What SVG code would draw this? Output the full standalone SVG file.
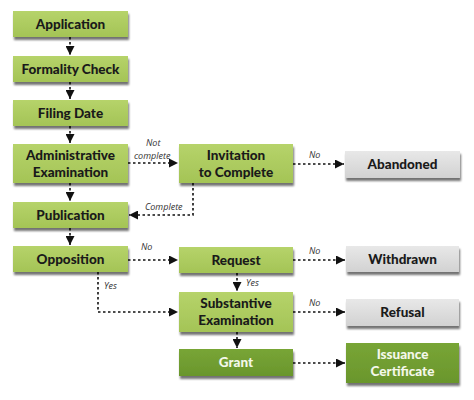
<svg xmlns="http://www.w3.org/2000/svg" width="474" height="400" viewBox="0 0 474 400">
<style>
.t{font-family:Lato,"Open Sans","Liberation Sans",sans-serif;font-weight:900;font-size:13.5px;text-anchor:middle;fill:#1a1a1a}
.tw{fill:#f4f8ea}
.l{font-family:"Open Sans","Liberation Sans",sans-serif;font-style:italic;font-size:9px;fill:#333}
.c{fill:none;stroke:#111;stroke-width:1.6;stroke-dasharray:2.5 2.5}
.g{fill:url(#lg);filter:url(#sh)}
.d{fill:url(#dg);filter:url(#sh)}
.y{fill:url(#gg);filter:url(#sh)}
</style>
<defs>
<linearGradient id="lg" x1="0" y1="0" x2="0" y2="1"><stop offset="0" stop-color="#b6d36a"/><stop offset="1" stop-color="#a4c456"/></linearGradient>
<linearGradient id="dg" x1="0" y1="0" x2="0" y2="1"><stop offset="0" stop-color="#78a536"/><stop offset="1" stop-color="#6a962c"/></linearGradient>
<linearGradient id="gg" x1="0" y1="0" x2="0" y2="1"><stop offset="0" stop-color="#e8e8e8"/><stop offset="1" stop-color="#d2d2d2"/></linearGradient>
<filter id="sh" x="-10%" y="-20%" width="120%" height="160%"><feGaussianBlur in="SourceAlpha" stdDeviation="1.2"/><feOffset dx="1" dy="2.5" result="b"/><feComponentTransfer><feFuncA type="linear" slope="0.55"/></feComponentTransfer><feMerge><feMergeNode/><feMergeNode in="SourceGraphic"/></feMerge></filter>
<marker id="a" viewBox="0 0 10 10" refX="10" refY="5" markerWidth="10" markerHeight="9" markerUnits="userSpaceOnUse" orient="auto"><path d="M0,0L10,5L0,10z" fill="#111"/></marker>
</defs>
<g id="connectors">
<path class="c" d="M70,37V55" marker-end="url(#a)"/>
<path class="c" d="M70,82V99" marker-end="url(#a)"/>
<path class="c" d="M70,126V143" marker-end="url(#a)"/>
<path class="c" d="M70,183V201" marker-end="url(#a)"/>
<path class="c" d="M70,228V245" marker-end="url(#a)"/>
<path class="c" d="M128,163H178" marker-end="url(#a)"/>
<path class="c" d="M293,164H344" marker-end="url(#a)"/>
<path class="c" d="M193,183V215H129" marker-end="url(#a)"/>
<path class="c" d="M128,260H178" marker-end="url(#a)"/>
<path class="c" d="M293,260H345" marker-end="url(#a)"/>
<path class="c" d="M98,272V312H178" marker-end="url(#a)"/>
<path class="c" d="M237,273V291" marker-end="url(#a)"/>
<path class="c" d="M293,312H345" marker-end="url(#a)"/>
<path class="c" d="M237,332V348" marker-end="url(#a)"/>
<path class="c" d="M293,363H345" marker-end="url(#a)"/>
<text class="l" x="146" y="146">Not</text>
<text class="l" x="134" y="159">complete</text>
<text class="l" x="309" y="158">No</text>
<text class="l" x="145" y="210">Complete</text>
<text class="l" x="141" y="250">No</text>
<text class="l" x="309" y="254">No</text>
<text class="l" x="104" y="289">Yes</text>
<text class="l" x="246" y="286">Yes</text>
<text class="l" x="309" y="306">No</text>
</g>
<g id="application"><rect class="g" x="13" y="11" width="115" height="26"/><text class="t" x="70.5" y="29">Application</text></g>
<g id="formality"><rect class="g" x="13" y="56" width="115" height="26"/><text class="t" x="70.5" y="74">Formality Check</text></g>
<g id="filing"><rect class="g" x="13" y="100" width="115" height="26"/><text class="t" x="70.5" y="118">Filing Date</text></g>
<g id="admin"><rect class="g" x="13" y="144" width="115" height="39"/><text class="t" x="70.5" y="160">Administrative</text><text class="t" x="70.5" y="177">Examination</text></g>
<g id="publication"><rect class="g" x="13" y="202" width="115" height="26"/><text class="t" x="70.5" y="220">Publication</text></g>
<g id="opposition"><rect class="g" x="13" y="246" width="115" height="26"/><text class="t" x="70.5" y="264">Opposition</text></g>
<g id="invitation"><rect class="g" x="179" y="144" width="114" height="39"/><text class="t" x="236" y="160">Invitation</text><text class="t" x="236" y="177">to Complete</text></g>
<g id="abandoned"><rect class="y" x="345" y="151" width="115" height="27"/><text class="t" x="402.5" y="169">Abandoned</text></g>
<g id="request"><rect class="g" x="179" y="247" width="114" height="26"/><text class="t" x="236" y="265">Request</text></g>
<g id="withdrawn"><rect class="y" x="346" y="246" width="113" height="26"/><text class="t" x="402.5" y="264">Withdrawn</text></g>
<g id="substantive"><rect class="g" x="179" y="292" width="114" height="40"/><text class="t" x="236" y="308">Substantive</text><text class="t" x="236" y="325">Examination</text></g>
<g id="refusal"><rect class="y" x="346" y="299" width="113" height="27"/><text class="t" x="402.5" y="317">Refusal</text></g>
<g id="grant"><rect class="d" x="179" y="349" width="114" height="27"/><text class="t tw" x="236" y="367">Grant</text></g>
<g id="issuance"><rect class="d" x="346" y="343" width="113" height="40"/><text class="t tw" x="402.5" y="359">Issuance</text><text class="t tw" x="402.5" y="376">Certificate</text></g>
</svg>
